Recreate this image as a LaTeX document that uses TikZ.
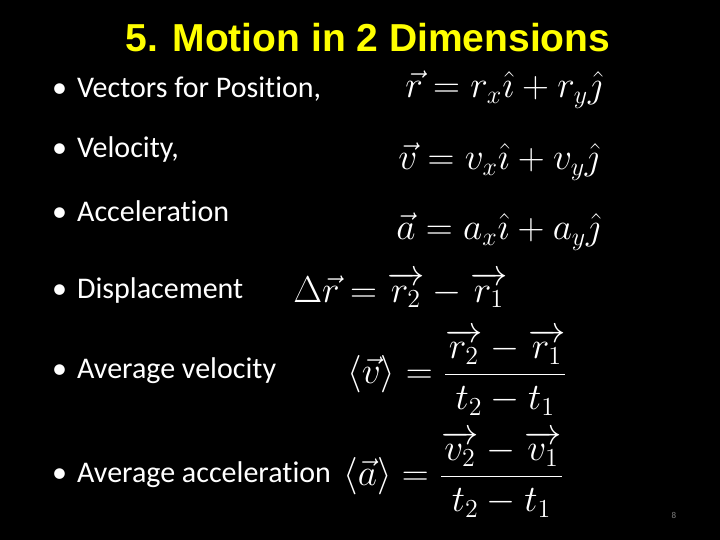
\documentclass[tikz,border=0pt]{standalone}
\usepackage{amsmath}
\usepackage{fontspec}
\setmainfont{Carlito}[Ligatures=NoCommon]
\newfontfamily\titlefont{Liberation Sans}
\begin{document}
\begin{tikzpicture}[x=1pt,y=-1pt,
  bul/.style={anchor=base west,text=white,font=\fontsize{30}{34}\selectfont,inner sep=0},
  eq/.style={anchor=base west,text=white,scale=1.8,inner sep=0}]
\fill[black] (0,0) rectangle (720,540);
\useasboundingbox (0,0) rectangle (720,540);
\node[anchor=base,text={rgb,255:red,255;green,255;blue,0},font=\titlefont\bfseries\fontsize{39}{44}\selectfont,inner sep=0] (title) at (368,52) {5. Motion in 2 Dimensions};
\node[bul] (b1) at (52,98) {•\hspace{10pt}Vectors for Position,};
\node[bul] (b2) at (52,158) {•\hspace{10pt}Velocity,};
\node[bul] (b3) at (52,222) {•\hspace{10pt}Acceleration};
\node[bul] (b4) at (52,298) {•\hspace{10pt}Displacement};
\node[bul] (b5) at (52,378) {•\hspace{10pt}Average velocity};
\node[bul] (b6) at (52,482) {•\hspace{10pt}Average acceleration};
\node[eq] (e1) at (405,98) {\fontsize{20}{24}\selectfont$\vec r = r_x\hat\imath + r_y\hat\jmath$};
\node[eq] (e2) at (398,170) {\fontsize{20}{24}\selectfont$\vec v = v_x\hat\imath + v_y\hat\jmath$};
\node[eq] (e3) at (396,240) {\fontsize{20}{24}\selectfont$\vec a = a_x\hat\imath + a_y\hat\jmath$};
\node[eq] (e4) at (293,302) {\fontsize{20}{24}\selectfont$\Delta\vec r = \overrightarrow{r_2} - \overrightarrow{r_1}$};
\node[eq,anchor=west] (e5) at (347,372) {\fontsize{20}{24}\selectfont$\langle\vec v\rangle = \dfrac{\overrightarrow{r_2}-\overrightarrow{r_1}}{t_2-t_1}$};
\node[eq,anchor=west] (e6) at (343,474) {\fontsize{20}{24}\selectfont$\langle\vec a\rangle = \dfrac{\overrightarrow{v_2}-\overrightarrow{v_1}}{t_2-t_1}$};
\node[anchor=base,text=gray,font=\fontsize{9}{10}\selectfont,inner sep=0] (pg) at (674,518) {8};
\end{tikzpicture}
\end{document}
